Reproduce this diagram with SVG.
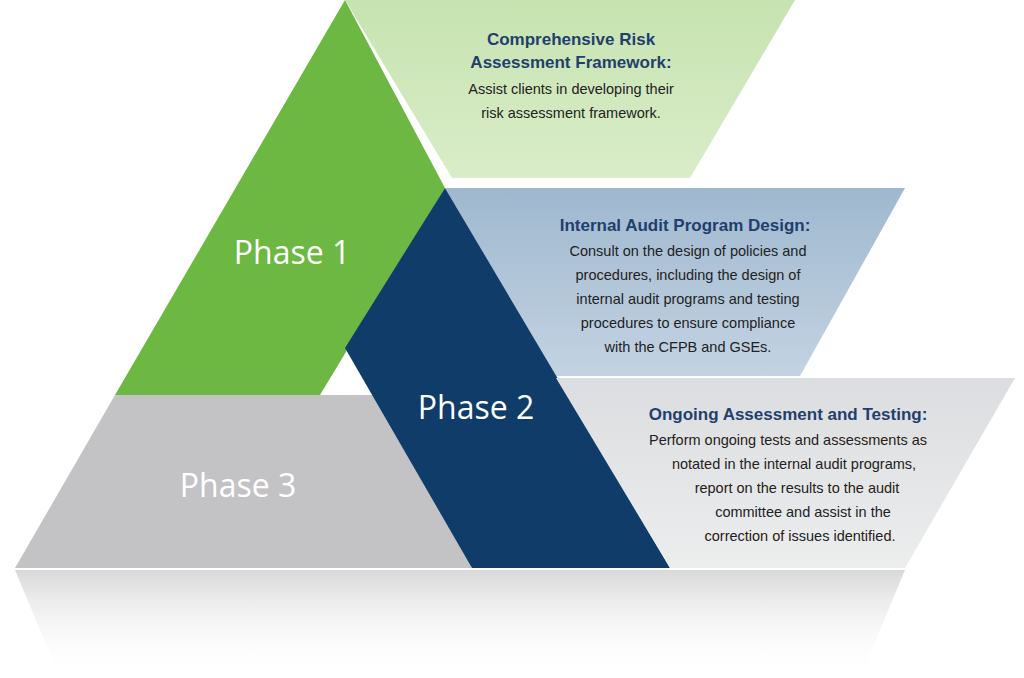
<svg xmlns="http://www.w3.org/2000/svg" width="1024" height="678" viewBox="0 0 1024 678">
<defs>
<style>
.h{font-family:"Liberation Sans",Arial,sans-serif;font-weight:bold;font-size:17px;fill:#1f3f6e;text-anchor:middle}
.b{font-family:"Liberation Sans",Arial,sans-serif;font-size:14.5px;fill:#222;text-anchor:middle}
.p{font-family:"Open Sans","Liberation Sans",sans-serif;font-size:32px;fill:#fff;text-anchor:middle}
</style>
<linearGradient id="ref" x1="0" y1="0" x2="0" y2="1"><stop offset="0" stop-color="#c8c8c8" stop-opacity="0.7"/><stop offset="1" stop-color="#fff" stop-opacity="0"/></linearGradient>
<linearGradient id="lg" x1="0" y1="0" x2="0" y2="1"><stop offset="0" stop-color="#c7e3b0"/><stop offset="1" stop-color="#d9edc8"/></linearGradient>
<linearGradient id="lb" x1="0" y1="0" x2="0" y2="1"><stop offset="0" stop-color="#9fb8cf"/><stop offset="1" stop-color="#c3d3e2"/></linearGradient>
<linearGradient id="gr" x1="0" y1="0" x2="0" y2="1"><stop offset="0" stop-color="#dcdde0"/><stop offset="1" stop-color="#eceded"/></linearGradient>
</defs>
<rect width="1024" height="678" fill="#fff"/>
<polygon points="15,570 475,570 670,570 905,570 860,678 60,678" fill="url(#ref)"/>
<g id="phase3"><polygon points="115,395 400,395 472,568 15,568" fill="#c3c3c5"/><text class="p" x="238" y="497" fill="#f2f2f2">Phase 3</text></g>
<g id="phase1"><polygon points="345,0 445,188 320,395 115,395" fill="#6cb843"/><text class="p" x="292" y="264">Phase 1</text></g>
<g id="box1"><polygon points="345,0 795,0 690,178 452,178" fill="url(#lg)"/>
<text class="h" x="571" y="45">Comprehensive Risk</text><text class="h" x="571" y="68">Assessment Framework:</text>
<text class="b" x="571" y="94">Assist clients in developing their</text><text class="b" x="571" y="118">risk assessment framework.</text></g>
<g id="box2"><polygon points="445,188 905,188 800,376 556,376" fill="url(#lb)"/>
<text class="h" x="685" y="231">Internal Audit  Program Design:</text>
<text class="b" x="688" y="256">Consult on the design of policies and</text>
<text class="b" x="688" y="280">procedures, including the design of</text>
<text class="b" x="688" y="304">internal audit programs and testing</text>
<text class="b" x="688" y="328">procedures to ensure compliance</text>
<text class="b" x="688" y="352">with the CFPB and GSEs.</text></g>
<g id="phase2"><polygon points="445,188 670,568 472,568 345,348" fill="#0f3c69"/><text class="p" x="476" y="419">Phase 2</text></g>
<g id="box3"><polygon points="556,378 1015,378 905,568 670,568" fill="url(#gr)"/>
<text class="h" x="788" y="420">Ongoing Assessment and Testing:</text>
<text class="b" x="788" y="445">Perform ongoing tests and assessments as</text>
<text class="b" x="794" y="469">notated in the internal audit programs,</text>
<text class="b" x="797" y="493">report on the results to the audit</text>
<text class="b" x="803" y="517">committee and assist in the</text>
<text class="b" x="800" y="541">correction of issues identified.</text></g>
<g id="connectors"/>
</svg>
